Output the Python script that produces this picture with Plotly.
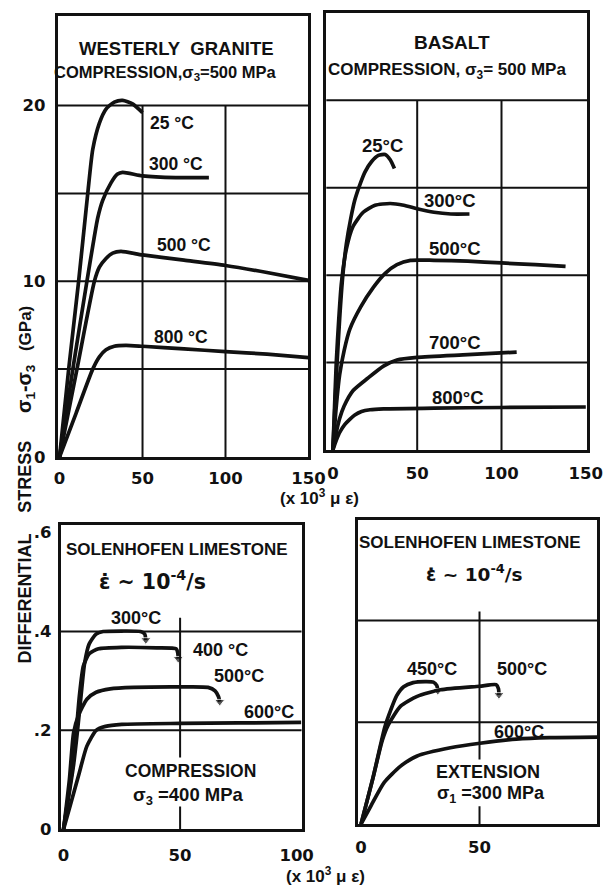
import plotly.graph_objects as go

# ---------------- data (strain in 10^3 microstrain, stress in GPa) ----------------
# Westerly granite, compression, sigma3 = 500 MPa
granite_25_x = [0, 5.5, 11.5, 17, 20, 24, 28, 33, 38, 44, 50]
granite_25_y = [0, 5, 10, 15, 17.5, 19, 19.8, 20.2, 20.3, 20.1, 19.6]
granite_300_x = [0, 8, 16.5, 20, 23, 26, 31, 35, 38, 50, 70, 90]
granite_300_y = [0, 5, 10, 12, 13.6, 14.6, 15.6, 16.1, 16.2, 16.0, 15.9, 15.9]
granite_500_x = [0, 10.5, 21, 24, 28, 32, 37, 50, 75, 100, 125, 150]
granite_500_y = [0, 5, 10, 10.8, 11.3, 11.6, 11.7, 11.5, 11.2, 10.9, 10.5, 10.05]
granite_800_x = [0, 10, 20, 24, 28, 33, 40, 50, 75, 100, 125, 150]
granite_800_y = [0, 2.5, 5, 5.7, 6.1, 6.3, 6.35, 6.3, 6.15, 6.0, 5.85, 5.65]

# Basalt, compression, sigma3 = 500 MPa
basalt_25_x = [0, 1.2, 2.5, 4, 5.9, 8, 10.5, 13, 15.7, 19, 23, 27, 31, 34, 36.5]
basalt_25_y = [0, 2.5, 5, 7.5, 10, 11.8, 13.2, 14.3, 15.1, 15.9, 16.5, 16.85, 16.9, 16.6, 16.1]
basalt_300_x = [0, 1, 2, 3.5, 5, 8, 12, 18, 25, 34, 42, 50, 60, 70, 81]
basalt_300_y = [0, 2.5, 5, 7.5, 9.5, 11.5, 12.8, 13.6, 14.0, 14.1, 14.0, 13.8, 13.6, 13.5, 13.5]
basalt_500_x = [0, 2, 4, 6.7, 10, 16.6, 24, 31, 38, 46, 60, 80, 100, 120, 138]
basalt_500_y = [0, 2.5, 4.3, 5.7, 6.9, 8.2, 9.3, 10.1, 10.6, 10.85, 10.85, 10.8, 10.7, 10.6, 10.5]
basalt_700_x = [0, 2, 4, 6.6, 12, 20.6, 30, 38, 50, 80, 109]
basalt_700_y = [0, 1.0, 1.8, 2.5, 3.4, 4.1, 4.8, 5.15, 5.3, 5.45, 5.6]
basalt_800_x = [0, 2, 4, 7, 10, 13, 17, 22, 30, 60, 100, 150]
basalt_800_y = [0, 0.55, 1.0, 1.45, 1.75, 2.0, 2.2, 2.3, 2.35, 2.4, 2.43, 2.46]

# Solenhofen limestone, compression, sigma3 = 400 MPa
lsc_300_x = [0, 2, 4.3, 6, 7.5, 9, 11, 14, 17, 25, 33, 34.8, 35.3]
lsc_300_y = [0, 0.06, 0.13, 0.2, 0.27, 0.335, 0.375, 0.395, 0.40, 0.401, 0.40, 0.395, 0.383]
lsc_400_x = [0, 2, 4, 5.5, 6.8, 8.5, 11, 15, 25, 40, 48.3, 49, 49.2]
lsc_400_y = [0, 0.065, 0.13, 0.2, 0.27, 0.33, 0.355, 0.365, 0.368, 0.367, 0.365, 0.357, 0.345]
lsc_500_x = [0, 2.5, 4.3, 6.4, 10, 14, 20, 30, 50, 62, 65, 66.5, 67]
lsc_500_y = [0, 0.1, 0.195, 0.23, 0.263, 0.277, 0.284, 0.287, 0.288, 0.287, 0.28, 0.268, 0.258]
lsc_600_x = [0, 2.8, 6.4, 10, 14, 18, 25, 50, 75, 102]
lsc_600_y = [0, 0.047, 0.108, 0.168, 0.2, 0.208, 0.212, 0.214, 0.215, 0.216]

# Solenhofen limestone, extension, sigma1 = 300 MPa
lse_450_x = [0, 5, 10, 12.6, 15, 18, 22, 27, 30.5, 32, 32.4]
lse_450_y = [0, 0.09, 0.19, 0.225, 0.252, 0.27, 0.278, 0.28, 0.279, 0.272, 0.262]
lse_500_x = [0, 5, 9, 11.5, 16.7, 23.7, 33.5, 50, 57, 58, 58.2]
lse_500_y = [0, 0.09, 0.165, 0.195, 0.232, 0.251, 0.264, 0.271, 0.274, 0.266, 0.254]
lse_600_x = [0, 4.2, 9.8, 16.7, 23.7, 37.7, 50.2, 65.5, 79.5, 100]
lse_600_y = [0, 0.036, 0.082, 0.114, 0.134, 0.150, 0.159, 0.167, 0.170, 0.171]

top_xticks = [0, 50, 100, 150]
bottom_xticks = [0, 50, 100]
granite_yticks = [0, 10, 20]
limestone_yticks = [0, 0.2, 0.4, 0.6]
limestone_yticklabels = ["0", ".2", ".4", ".6"]

# ---------------- styling ----------------
# positions below are laid out on a 606 x 887 grid and expressed as paper fractions
W, H = 606, 887
FIG_W, FIG_H = 622, 896
INK = "#111111"
TXT = "Liberation Sans, Arial, sans-serif"
TICK = "DejaVu Sans, sans-serif"
NB = "\u00a0"


def px(x, y):
    return x / W, 1 - y / H


fig = go.Figure()


def curve(xs, ys, ax, arrow=False):
    n = len(xs)
    fig.add_trace(go.Scatter(
        x=xs, y=ys, xaxis="x" + ax, yaxis="y" + ax, mode="lines+markers" if arrow else "lines",
        line=dict(color=INK, width=3.7, shape="spline", smoothing=0.6),
        marker=dict(symbol="triangle-down", color=INK,
                    size=[0] * (n - 1) + [9] if arrow else 0),
        hoverinfo="skip", showlegend=False, cliponaxis=False,
    ))


curve(granite_25_x, granite_25_y, "")
curve(granite_300_x, granite_300_y, "")
curve(granite_500_x, granite_500_y, "")
curve(granite_800_x, granite_800_y, "")
curve(basalt_25_x, basalt_25_y, "2")
curve(basalt_300_x, basalt_300_y, "2")
curve(basalt_500_x, basalt_500_y, "2")
curve(basalt_700_x, basalt_700_y, "2")
curve(basalt_800_x, basalt_800_y, "2")
curve(lsc_300_x, lsc_300_y, "3", arrow=True)
curve(lsc_400_x, lsc_400_y, "3", arrow=True)
curve(lsc_500_x, lsc_500_y, "3", arrow=True)
curve(lsc_600_x, lsc_600_y, "3")
curve(lse_450_x, lse_450_y, "4", arrow=True)
curve(lse_500_x, lse_500_y, "4", arrow=True)
curve(lse_600_x, lse_600_y, "4")

frame = dict(showgrid=False, zeroline=False, showline=True, mirror=True,
             linecolor=INK, linewidth=2.5, ticks="", fixedrange=True,
             tickfont=dict(family=TICK, size=16.5, color=INK, weight="bold"))

fig.update_layout(
    width=FIG_W, height=FIG_H, autosize=False, margin=dict(l=0, r=0, t=0, b=0),
    paper_bgcolor="white", plot_bgcolor="white",
    xaxis=dict(frame, domain=[54 / W, 307 / W], range=[-1.2, 150], anchor="y",
               tickvals=top_xticks, ticklabelstandoff=4),
    yaxis=dict(frame, domain=[1 - 457 / H, 1 - 15 / H], range=[0, 25.1], anchor="x",
               tickvals=granite_yticks, ticklabelstandoff=6),
    xaxis2=dict(frame, domain=[325 / W, 588 / W], range=[-3.9, 150.8], anchor="y2",
                tickvals=top_xticks, ticklabelstandoff=6),
    yaxis2=dict(frame, domain=[1 - 450 / H, 1 - 12 / H], range=[0, 25.0], anchor="x2",
                showticklabels=False),
    xaxis3=dict(frame, domain=[57 / W, 300 / W], range=[-1.3, 102.1], anchor="y3",
                tickvals=bottom_xticks, ticklabelstandoff=9),
    yaxis3=dict(frame, domain=[1 - 830 / H, 1 - 525 / H], range=[0, 0.616], anchor="x3",
                tickvals=limestone_yticks, ticktext=limestone_yticklabels, ticklabelstandoff=3),
    xaxis4=dict(frame, domain=[357 / W, 598 / W], range=[-1.25, 99.6], anchor="y4",
                tickvals=bottom_xticks, ticklabelstandoff=6),
    yaxis4=dict(frame, domain=[1 - 825 / H, 1 - 520 / H], range=[0, 0.598], anchor="x4",
                showticklabels=False),
)

# ---------------- grid lines ----------------
shapes = []
GRID = dict(color=INK, width=2)
for ax in ("", "2"):
    for v in (5, 10, 15, 20):
        shapes.append(dict(type="line", xref="x" + ax + " domain", yref="y" + ax,
                           x0=0, x1=1, y0=v, y1=v, line=GRID))
    for v in (50, 100):
        shapes.append(dict(type="line", xref="x" + ax, yref="y" + ax,
                           x0=v, x1=v, y0=0, y1=20, line=GRID))
for ax, segs in (("3", [(0.145, 0.428), (0, 0.046)]), ("4", [(0.127, 0.418), (0, 0.035)])):
    for v in (0.2, 0.4):
        shapes.append(dict(type="line", xref="x" + ax + " domain", yref="y" + ax,
                           x0=0, x1=1, y0=v, y1=v, line=GRID))
    for a, b in segs:
        shapes.append(dict(type="line", xref="x" + ax, yref="y" + ax,
                           x0=50, x1=50, y0=a, y1=b, line=GRID))
fig.update_layout(shapes=shapes)

# ---------------- text ----------------
def label(text, x, y, size=17, angle=0, family=TXT):
    xx, yy = px(x, y)
    fig.add_annotation(text=text, x=xx, y=yy, xref="paper", yref="paper",
                       showarrow=False, xanchor="center", yanchor="middle",
                       textangle=angle,
                       font=dict(family=family, size=size, color=INK, weight="bold"))


label("WESTERLY" + NB * 2 + "GRANITE", 174, 48, 18.5)
label("COMPRESSION,σ<sub>3</sub>=500 MPa", 163, 72, 16.5)
label("BASALT", 452, 42, 19)
label("COMPRESSION, σ<sub>3</sub>= 500 MPa", 447, 70, 17)

label("25 °C", 169, 122, 17.5)
label("300 °C", 173, 163, 17.5)
label("500 °C", 181, 245, 17.5)
label("800 °C", 178, 337, 17.5)

label("25°C", 382, 145, 18.5)
label("300°C", 450, 200, 18.5)
label("500°C", 455, 248, 18.5)
label("700°C", 455, 342, 18.5)
label("800°C", 458, 397, 18.5)

label("SOLENHOFEN" + NB + "LIMESTONE", 174, 550, 17)
label("ε̇ ~ 10<sup>-4</sup>/s", 150, 581, 20.5, family=TICK)
label("300°C", 133, 618, 18)
label("400 °C", 218, 650, 18)
label("500°C", 237, 677, 18)
label("600°C", 267, 713, 18)
label("COMPRESSION", 188, 772, 17.5)
label("σ<sub>3</sub> =400 MPa", 186, 797, 18.5)

label("SOLENHOFEN" + NB + "LIMESTONE", 470, 543, 17)
label("ε̇ ~ 10<sup>-4</sup>/s", 474, 573, 18.5, family=TICK)
label("450°C", 432, 670, 18)
label("500°C", 522, 670, 18)
label("600°C", 519, 733, 18)
label("EXTENSION", 488, 773, 18)
label("σ<sub>1</sub> =300 MPa", 491, 795, 18)

label("(x 10<sup>3</sup> μ ε)", 318, 497, 17)
label("(x 10<sup>3</sup> μ ε)", 324, 876, 17)

label("DIFFERENTIAL", 21, 599, 18, -90)
label("STRESS", 21, 477, 18, -90)
label("σ<sub>1</sub>-σ<sub>3</sub>", 21, 388, 19.5, -90)
label("(GPa)", 21, 328, 17, -90)

fig.write_html("out.html", config={"responsive": False})
